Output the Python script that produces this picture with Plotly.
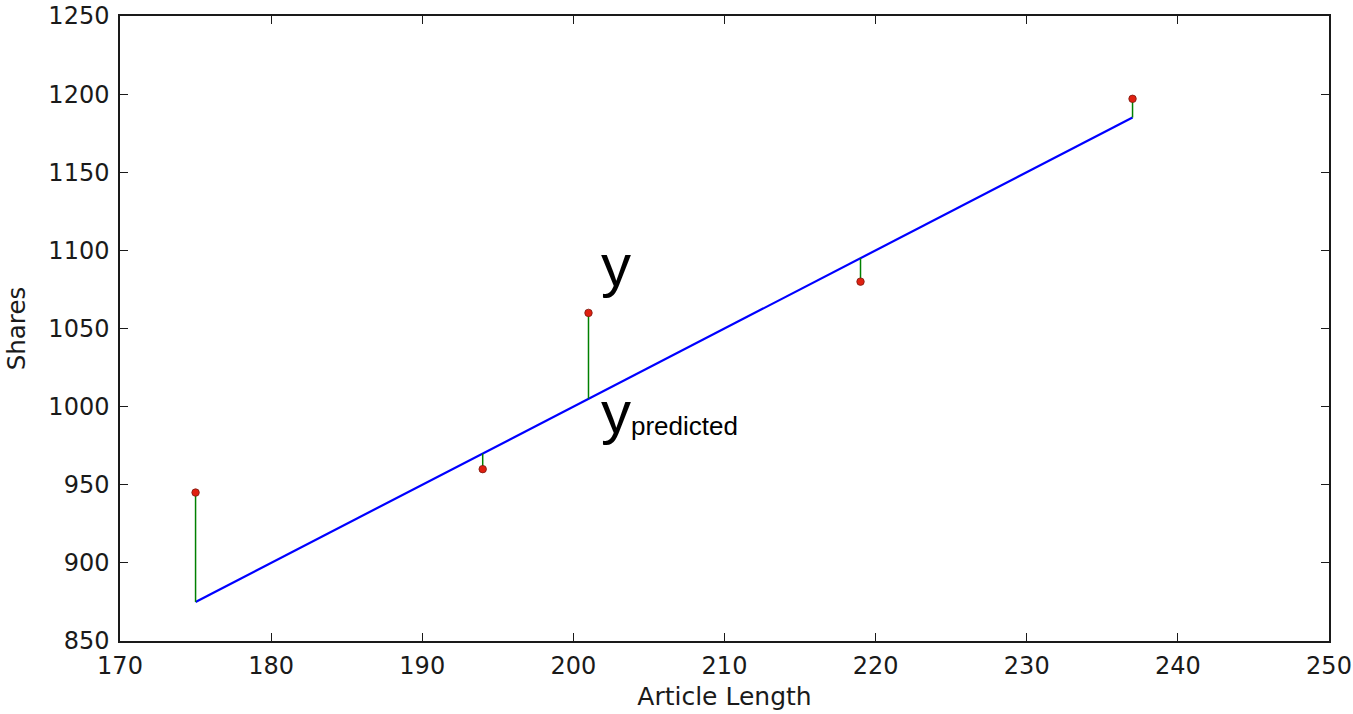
import plotly.graph_objects as go

# Data
article_length = [175, 194, 201, 219, 237]
shares = [945, 960, 1060, 1080, 1197]
predicted = [875, 970, 1005, 1095, 1185]

x_ticks = [170, 180, 190, 200, 210, 220, 230, 240, 250]
y_ticks = [850, 900, 950, 1000, 1050, 1100, 1150, 1200, 1250]

# residual segments built from data
res_x, res_y = [], []
for xv, yv, pv in zip(article_length, shares, predicted):
    res_x += [xv, xv, None]
    res_y += [yv, pv, None]

fig = go.Figure()
fig.add_trace(go.Scatter(x=article_length, y=predicted, mode="lines",
                         line=dict(color="#0000ff", width=2.2), hoverinfo="skip"))
fig.add_trace(go.Scatter(x=res_x, y=res_y, mode="lines",
                         line=dict(color="#008000", width=1.5), hoverinfo="skip"))
fig.add_trace(go.Scatter(x=article_length, y=shares, mode="markers",
                         marker=dict(color="#e02010", size=7.5,
                                     line=dict(color="#7a1a10", width=0.8))))

tick_font = dict(family="DejaVu Sans", size=24, color="#1a1a1a")
axis_common = dict(
    showgrid=False, zeroline=False, showline=True, linecolor="#1a1a1a",
    linewidth=1.5, mirror="allticks", ticks="inside", ticklen=8,
    tickwidth=1, tickcolor="#1a1a1a", tickfont=tick_font, automargin=False,
    ticklabeloverflow="allow",
)

fig.update_layout(
    width=1353, height=714,
    margin=dict(l=120, r=24, t=16, b=73),
    paper_bgcolor="white", plot_bgcolor="white",
    showlegend=False,
    xaxis=dict(range=[170, 250], tickvals=x_ticks,
               ticktext=[str(v) for v in x_ticks],
               title=dict(text="Article Length", font=dict(family="DejaVu Sans", size=25, color="#1a1a1a"),
                          standoff=9),
               ticklabelstandoff=2,
               **axis_common),
    yaxis=dict(range=[850, 1250], tickvals=y_ticks,
               ticktext=[str(v) for v in y_ticks],
               title=dict(text="Shares", font=dict(family="DejaVu Sans", size=24.5, color="#1a1a1a"),
                          standoff=16),
               ticklabelstandoff=4,
               **axis_common),
)

ann_font = dict(family="Liberation Sans", color="black")
fig.add_annotation(x=201.7, y=1090.5, xref="x", yref="y", text="y",
                   showarrow=False, xanchor="left", yanchor="middle",
                   font=dict(size=60, **ann_font))
fig.add_annotation(x=201.7, y=996, xref="x", yref="y", text="y",
                   showarrow=False, xanchor="left", yanchor="middle",
                   font=dict(size=60, **ann_font))
fig.add_annotation(x=203.7, y=987.6, xref="x", yref="y", text="predicted",
                   showarrow=False, xanchor="left", yanchor="middle",
                   font=dict(size=26, **ann_font))

fig.write_html("out.html", config={"displayModeBar": False},
               post_script="document.body.style.margin='0';")
